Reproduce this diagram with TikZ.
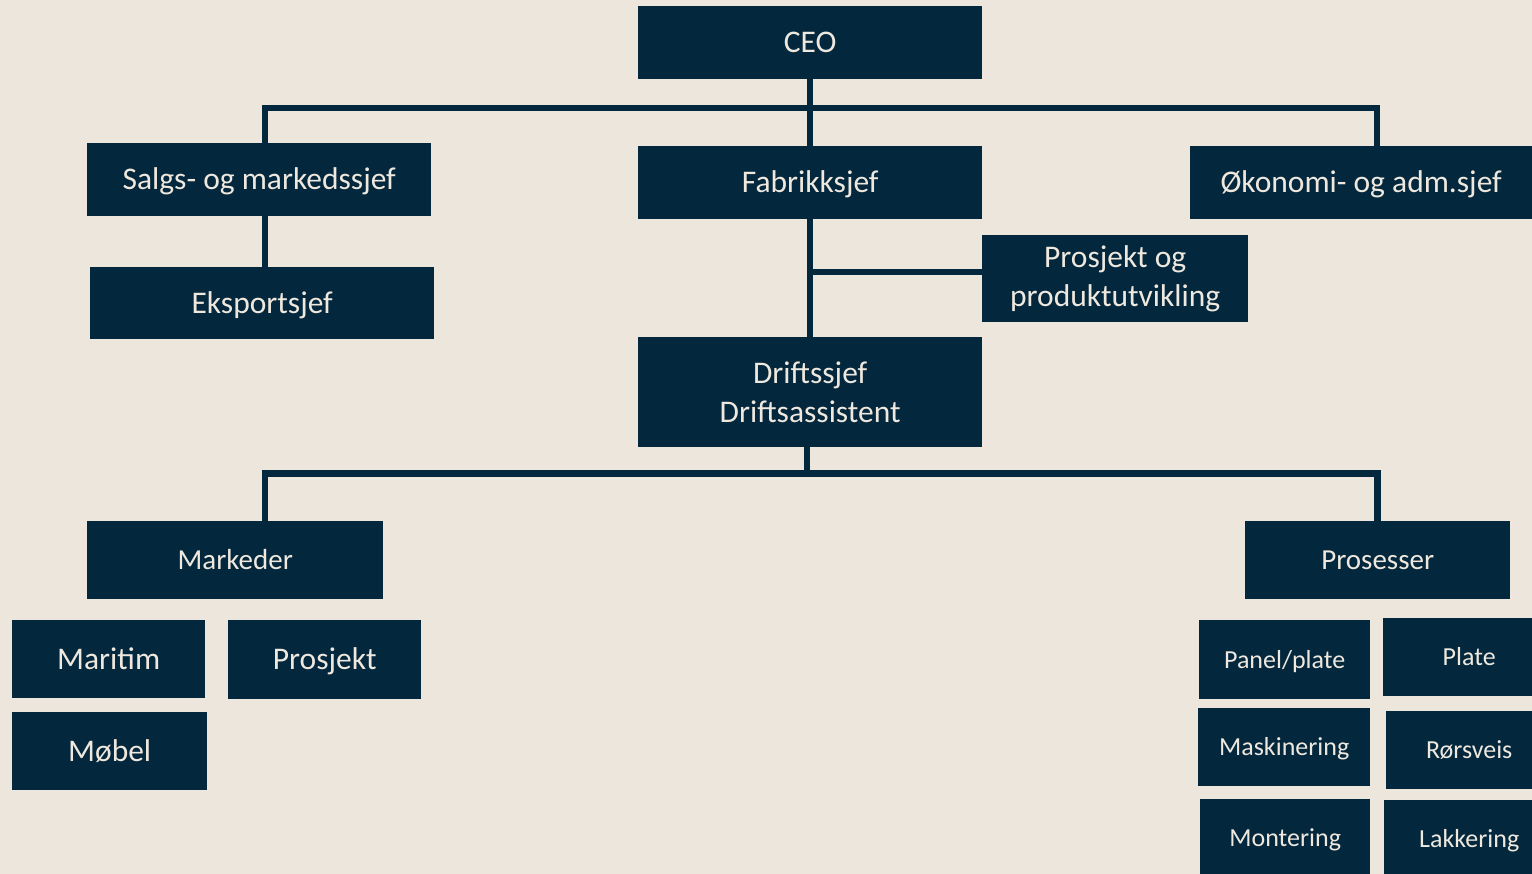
\documentclass[tikz,border=0pt]{standalone}
\usepackage{fontspec}
\setmainfont{Carlito}
\definecolor{bg}{HTML}{EDE6DD}
\definecolor{navy}{HTML}{03273C}
\definecolor{cream}{HTML}{EEE8DF}
\tikzset{
  box/.style={rectangle, fill=navy, text=cream, inner sep=0pt, anchor=north west,
    font=\fontsize{31.5}{38.4}\selectfont, text height=20.3pt, text depth=0pt},
  boxtwo/.style={rectangle, fill=navy, text=cream, inner sep=0pt, anchor=north west,
    font=\fontsize{31.5}{38.4}\selectfont, align=center},
  midbox/.style={box, font=\fontsize{29}{35}\selectfont, text height=18.7pt},
  smallbox/.style={box, font=\fontsize{26}{32}\selectfont, text height=16.7pt},
  conn/.style={draw=navy, line width=6.5pt, line join=miter}
}
\begin{document}
\begin{tikzpicture}[x=1pt,y=-1pt]
\fill[bg] (0,0) rectangle (1532,874);
\useasboundingbox (0,0) rectangle (1532,874);
\node[box, minimum width=344pt, minimum height=73pt] (ceo) at (638,6) {CEO};
\node[box, minimum width=344pt, minimum height=73pt] (salg) at (87,143) {Salgs- og markedssjef};
\node[box, minimum width=344pt, minimum height=73pt] (fab) at (638,146) {Fabrikksjef};
\node[box, minimum width=342pt, minimum height=73pt] (oko) at (1190,146) {Økonomi- og adm.sjef};
\node[box, minimum width=344pt, minimum height=72pt] (eks) at (90,267) {Eksportsjef};
\node[boxtwo, minimum width=266pt, minimum height=87pt] (pros) at (982,235) {Prosjekt og\\produktutvikling};
\node[boxtwo, minimum width=344pt, minimum height=110pt] (drift) at (638,337) {Driftssjef\\Driftsassistent};
\node[midbox, minimum width=296pt, minimum height=78pt] (mark) at (87,521) {Markeder};
\node[midbox, minimum width=265pt, minimum height=78pt] (proc) at (1245,521) {Prosesser};
\node[box, minimum width=193pt, minimum height=78pt] (mar) at (12,620) {Maritim};
\node[box, minimum width=193pt, minimum height=79pt] (prj) at (228,620) {Prosjekt};
\node[box, minimum width=195pt, minimum height=78pt] (mob) at (12,712) {Møbel};
\node[smallbox, minimum width=171pt, minimum height=79pt] (pan) at (1199,620) {Panel/plate};
\node[smallbox, minimum width=172pt, minimum height=78pt] (pla) at (1383,618) {Plate};
\node[smallbox, minimum width=172pt, minimum height=78pt] (mask) at (1198,708) {Maskinering};
\node[smallbox, minimum width=166pt, minimum height=78pt] (ror) at (1386,711) {Rørsveis};
\node[smallbox, minimum width=170pt, minimum height=78pt] (mon) at (1200,799) {Montering};
\node[smallbox, minimum width=170pt, minimum height=78pt] (lak) at (1384,800) {Lakkering};
% connectors
\coordinate (pj) at ([yshift=6.5pt]pros.west);
\draw[conn] (ceo.south) -- (fab.north);
\draw[conn] ([xshift=6pt]salg.north) -- ++(0,-35) -| ([xshift=16pt]oko.north);
\draw[conn] ([xshift=6pt]salg.south) -- ([xshift=6pt]salg.south |- eks.north);
\draw[conn] (fab.south) -- (drift.north);
\draw[conn] (fab.south |- pj) -- (pj);
\draw[conn] ([xshift=-3pt]drift.south) -- ++(0,26) coordinate (j2);
\draw[conn] ([xshift=30pt]mark.north) |- (j2) -| (proc.north);
\end{tikzpicture}
\end{document}
